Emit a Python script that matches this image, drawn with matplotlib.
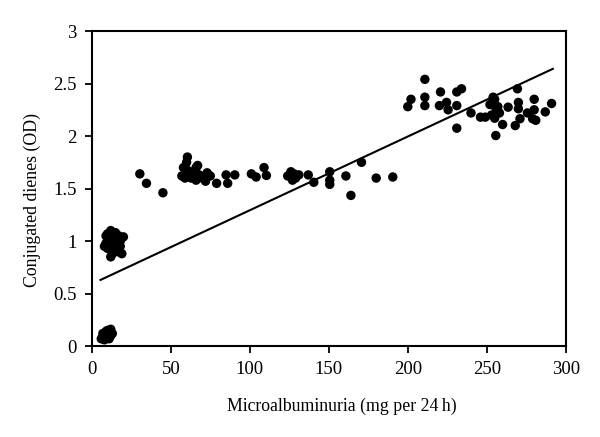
import matplotlib
matplotlib.use("Agg")
import matplotlib.pyplot as plt

plt.rcParams['font.family'] = ['Liberation Serif', 'DejaVu Serif']

# Low cluster (~0.1)
x_low = [6, 7, 8, 9, 10, 10, 11, 12, 12, 13, 8, 11, 9, 7]
y_low = [0.07, 0.12, 0.10, 0.14, 0.08, 0.15, 0.12, 0.10, 0.16, 0.12, 0.06, 0.07, 0.10, 0.09]

# Cluster around 1
x_one = [8, 9, 10, 11, 12, 12, 13, 14, 15, 16, 17, 18, 19, 13, 15, 11, 16, 14, 17, 10, 12, 20, 9, 18]
y_one = [0.95, 1.05, 0.93, 1.00, 1.10, 0.85, 1.05, 0.95, 1.00, 0.90, 1.05, 0.95, 0.88, 0.88, 1.08, 0.95, 0.97, 1.02, 0.90, 1.07, 0.98, 1.04, 0.98, 1.00]

# Middle cluster (~1.6)
x_mid = [30.4, 34.6, 45, 57, 58, 59, 60, 60.5, 61, 62, 63, 65, 66, 66, 67, 68, 70, 72, 73, 75, 79, 85, 86, 90.5,
         101, 104, 109, 110.5, 124, 126, 127, 128, 129, 131, 137, 140.5, 150.6, 150.6, 150.6, 160.8, 164, 170.7, 180, 190.5]
y_mid = [1.64, 1.55, 1.46, 1.62, 1.70, 1.60, 1.75, 1.80, 1.67, 1.62, 1.60, 1.65, 1.58, 1.70, 1.72, 1.63, 1.60, 1.57, 1.65, 1.62, 1.55, 1.63, 1.55, 1.63,
         1.64, 1.61, 1.70, 1.625, 1.62, 1.66, 1.58, 1.64, 1.60, 1.63, 1.63, 1.56, 1.66, 1.58, 1.54, 1.62, 1.435, 1.75, 1.60, 1.61]

# Upper cluster (~2.3)
x_up = [200, 202, 210.8, 210.8, 210.8, 220, 220.7, 224.5, 225.5, 231, 231, 231, 234, 240, 246, 249,
        252, 253, 254, 255, 255, 255.7, 256, 257, 258, 255, 260, 263.5, 268, 269.4, 270, 270, 271, 275.7,
        279, 280, 280, 281, 287, 291]
y_up = [2.28, 2.35, 2.54, 2.37, 2.29, 2.29, 2.42, 2.32, 2.25, 2.42, 2.29, 2.075, 2.45, 2.22, 2.18, 2.18,
        2.30, 2.20, 2.37, 2.30, 2.35, 2.005, 2.25, 2.28, 2.22, 2.17, 2.11, 2.275, 2.10, 2.45, 2.32, 2.26, 2.165, 2.22,
        2.165, 2.35, 2.25, 2.15, 2.23, 2.31]

# Regression line end points
fit_x = [5.5, 291.8]
fit_y = [0.63, 2.64]

x_ticks = [0, 50, 100, 150, 200, 250, 300]
y_ticks = [0, 0.5, 1, 1.5, 2, 2.5, 3]
y_tick_labels = ["0", "0.5", "1", "1.5", "2", "2.5", "3"]

fig = plt.figure(figsize=(6, 4.37), dpi=100)
ax = fig.add_axes([0.153, 0.208, 0.79, 0.721])

xs = x_low + x_one + x_mid + x_up
ys = y_low + y_one + y_mid + y_up
ax.scatter(xs, ys, s=46, color='black', edgecolors='none', zorder=3)
ax.plot(fit_x, fit_y, color='black', linewidth=1.5, zorder=2)

ax.set_xlim(0, 300)
ax.set_ylim(0, 3)
ax.set_xticks(x_ticks)
ax.set_xticklabels([str(v) for v in x_ticks])
ax.set_yticks(y_ticks)
ax.set_yticklabels(y_tick_labels)
ax.tick_params(axis='both', direction='out', length=5, width=1.3, labelsize=13.5, pad=6)
for sp in ax.spines.values():
    sp.set_linewidth(1.5)

ax.set_xlabel("Microalbuminuria (mg per 24\u2009h)", fontsize=12.8)
ax.set_ylabel("Conjugated dienes (OD)", fontsize=12.8)
ax.xaxis.set_label_coords(0.527, -0.165)
ax.yaxis.set_label_coords(-0.108, 0.463)

fig.savefig("out.png", dpi=100)
